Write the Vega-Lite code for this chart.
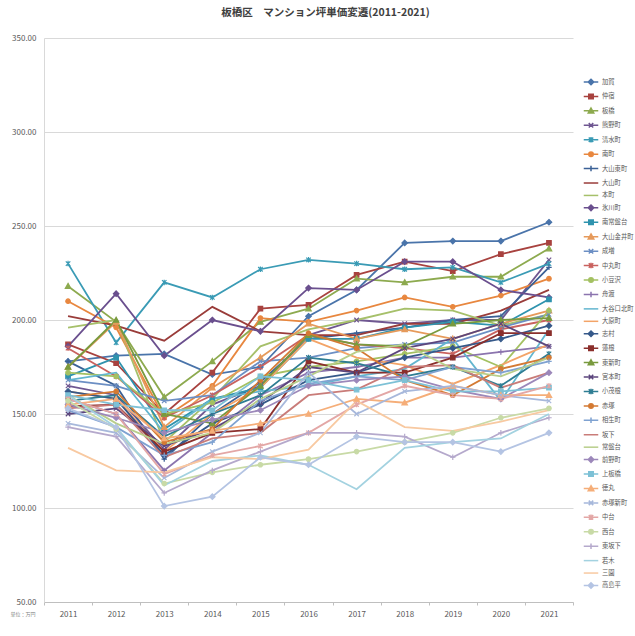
{
"$schema": "https://vega.github.io/schema/vega-lite/v6.json",
"width": 529, "height": 564,
"autosize": "none",
"padding": {"left": 44, "top": 38, "right": 62, "bottom": 34},
"background": "white",
"title": {"text": "板橋区　マンション坪単価変遷(2011-2021)", "font": "Noto Sans CJK JP", "fontSize": 10.5, "fontWeight": "bold", "color": "#404040", "offset": 16, "dx": 17},
"config": {
  "view": {"stroke": null},
  "font": "Noto Sans CJK JP",
  "legend": {"orient": "none", "legendX": 541, "legendY": 38, "padding": 0, "labelFontSize": 6.3, "labelColor": "#595959", "labelOffset": 5, "rowPadding": 2.43, "symbolStrokeWidth": 1.5, "symbolSize": 100, "labelLimit": 0, "symbolLimit": 0}
},
"data": {"values": [
{"area":"加賀","year":"2011","price":178},{"area":"加賀","year":"2012","price":181},{"area":"加賀","year":"2013","price":182},{"area":"加賀","year":"2014","price":171},{"area":"加賀","year":"2015","price":175},{"area":"加賀","year":"2016","price":202},{"area":"加賀","year":"2017","price":216},{"area":"加賀","year":"2018","price":241},{"area":"加賀","year":"2019","price":242},{"area":"加賀","year":"2020","price":242},{"area":"加賀","year":"2021","price":252},
{"area":"仲宿","year":"2011","price":187},{"area":"仲宿","year":"2012","price":177},{"area":"仲宿","year":"2013","price":150},{"area":"仲宿","year":"2014","price":172},{"area":"仲宿","year":"2015","price":206},{"area":"仲宿","year":"2016","price":208},{"area":"仲宿","year":"2017","price":224},{"area":"仲宿","year":"2018","price":231},{"area":"仲宿","year":"2019","price":226},{"area":"仲宿","year":"2020","price":235},{"area":"仲宿","year":"2021","price":241},
{"area":"板橋","year":"2011","price":218},{"area":"板橋","year":"2012","price":199},{"area":"板橋","year":"2013","price":159},{"area":"板橋","year":"2014","price":178},{"area":"板橋","year":"2015","price":199},{"area":"板橋","year":"2016","price":206},{"area":"板橋","year":"2017","price":222},{"area":"板橋","year":"2018","price":220},{"area":"板橋","year":"2019","price":223},{"area":"板橋","year":"2020","price":223},{"area":"板橋","year":"2021","price":238},
{"area":"熊野町","year":"2011","price":165},{"area":"熊野町","year":"2012","price":160},{"area":"熊野町","year":"2013","price":131},{"area":"熊野町","year":"2014","price":155},{"area":"熊野町","year":"2015","price":165},{"area":"熊野町","year":"2016","price":192},{"area":"熊野町","year":"2017","price":200},{"area":"熊野町","year":"2018","price":198},{"area":"熊野町","year":"2019","price":200},{"area":"熊野町","year":"2020","price":200},{"area":"熊野町","year":"2021","price":232},
{"area":"清水町","year":"2011","price":230},{"area":"清水町","year":"2012","price":188},{"area":"清水町","year":"2013","price":220},{"area":"清水町","year":"2014","price":212},{"area":"清水町","year":"2015","price":227},{"area":"清水町","year":"2016","price":232},{"area":"清水町","year":"2017","price":230},{"area":"清水町","year":"2018","price":227},{"area":"清水町","year":"2019","price":228},{"area":"清水町","year":"2020","price":220},{"area":"清水町","year":"2021","price":230},
{"area":"南町","year":"2011","price":210},{"area":"南町","year":"2012","price":196},{"area":"南町","year":"2013","price":148},{"area":"南町","year":"2014","price":165},{"area":"南町","year":"2015","price":201},{"area":"南町","year":"2016","price":199},{"area":"南町","year":"2017","price":205},{"area":"南町","year":"2018","price":212},{"area":"南町","year":"2019","price":207},{"area":"南町","year":"2020","price":213},{"area":"南町","year":"2021","price":222},
{"area":"大山東町","year":"2011","price":178},{"area":"大山東町","year":"2012","price":165},{"area":"大山東町","year":"2013","price":126},{"area":"大山東町","year":"2014","price":150},{"area":"大山東町","year":"2015","price":167},{"area":"大山東町","year":"2016","price":190},{"area":"大山東町","year":"2017","price":193},{"area":"大山東町","year":"2018","price":196},{"area":"大山東町","year":"2019","price":200},{"area":"大山東町","year":"2020","price":202},{"area":"大山東町","year":"2021","price":228},
{"area":"大山町","year":"2011","price":202},{"area":"大山町","year":"2012","price":197},{"area":"大山町","year":"2013","price":189},{"area":"大山町","year":"2014","price":207},{"area":"大山町","year":"2015","price":194},{"area":"大山町","year":"2016","price":192},{"area":"大山町","year":"2017","price":192},{"area":"大山町","year":"2018","price":198},{"area":"大山町","year":"2019","price":198},{"area":"大山町","year":"2020","price":205},{"area":"大山町","year":"2021","price":216},
{"area":"本町","year":"2011","price":196},{"area":"本町","year":"2012","price":200},{"area":"本町","year":"2013","price":135},{"area":"本町","year":"2014","price":158},{"area":"本町","year":"2015","price":186},{"area":"本町","year":"2016","price":195},{"area":"本町","year":"2017","price":200},{"area":"本町","year":"2018","price":206},{"area":"本町","year":"2019","price":205},{"area":"本町","year":"2020","price":197},{"area":"本町","year":"2021","price":203},
{"area":"氷川町","year":"2011","price":186},{"area":"氷川町","year":"2012","price":214},{"area":"氷川町","year":"2013","price":181},{"area":"氷川町","year":"2014","price":200},{"area":"氷川町","year":"2015","price":194},{"area":"氷川町","year":"2016","price":217},{"area":"氷川町","year":"2017","price":216},{"area":"氷川町","year":"2018","price":231},{"area":"氷川町","year":"2019","price":231},{"area":"氷川町","year":"2020","price":216},{"area":"氷川町","year":"2021","price":212},
{"area":"南常盤台","year":"2011","price":170},{"area":"南常盤台","year":"2012","price":180},{"area":"南常盤台","year":"2013","price":142},{"area":"南常盤台","year":"2014","price":158},{"area":"南常盤台","year":"2015","price":164},{"area":"南常盤台","year":"2016","price":190},{"area":"南常盤台","year":"2017","price":190},{"area":"南常盤台","year":"2018","price":196},{"area":"南常盤台","year":"2019","price":199},{"area":"南常盤台","year":"2020","price":197},{"area":"南常盤台","year":"2021","price":211},
{"area":"大山金井町","year":"2011","price":175},{"area":"大山金井町","year":"2012","price":199},{"area":"大山金井町","year":"2013","price":143},{"area":"大山金井町","year":"2014","price":164},{"area":"大山金井町","year":"2015","price":180},{"area":"大山金井町","year":"2016","price":198},{"area":"大山金井町","year":"2017","price":190},{"area":"大山金井町","year":"2018","price":195},{"area":"大山金井町","year":"2019","price":190},{"area":"大山金井町","year":"2020","price":198},{"area":"大山金井町","year":"2021","price":205},
{"area":"成増","year":"2011","price":168},{"area":"成増","year":"2012","price":165},{"area":"成増","year":"2013","price":157},{"area":"成増","year":"2014","price":160},{"area":"成増","year":"2015","price":178},{"area":"成増","year":"2016","price":180},{"area":"成増","year":"2017","price":185},{"area":"成増","year":"2018","price":187},{"area":"成増","year":"2019","price":188},{"area":"成増","year":"2020","price":196},{"area":"成増","year":"2021","price":203},
{"area":"中丸町","year":"2011","price":185},{"area":"中丸町","year":"2012","price":170},{"area":"中丸町","year":"2013","price":148},{"area":"中丸町","year":"2014","price":160},{"area":"中丸町","year":"2015","price":175},{"area":"中丸町","year":"2016","price":192},{"area":"中丸町","year":"2017","price":187},{"area":"中丸町","year":"2018","price":185},{"area":"中丸町","year":"2019","price":182},{"area":"中丸町","year":"2020","price":195},{"area":"中丸町","year":"2021","price":200},
{"area":"小豆沢","year":"2011","price":172},{"area":"小豆沢","year":"2012","price":170},{"area":"小豆沢","year":"2013","price":150},{"area":"小豆沢","year":"2014","price":156},{"area":"小豆沢","year":"2015","price":170},{"area":"小豆沢","year":"2016","price":175},{"area":"小豆沢","year":"2017","price":178},{"area":"小豆沢","year":"2018","price":182},{"area":"小豆沢","year":"2019","price":186},{"area":"小豆沢","year":"2020","price":175},{"area":"小豆沢","year":"2021","price":205},
{"area":"舟渡","year":"2011","price":158},{"area":"舟渡","year":"2012","price":150},{"area":"舟渡","year":"2013","price":120},{"area":"舟渡","year":"2014","price":140},{"area":"舟渡","year":"2015","price":160},{"area":"舟渡","year":"2016","price":172},{"area":"舟渡","year":"2017","price":175},{"area":"舟渡","year":"2018","price":180},{"area":"舟渡","year":"2019","price":180},{"area":"舟渡","year":"2020","price":183},{"area":"舟渡","year":"2021","price":186},
{"area":"大谷口北町","year":"2011","price":168},{"area":"大谷口北町","year":"2012","price":172},{"area":"大谷口北町","year":"2013","price":140},{"area":"大谷口北町","year":"2014","price":158},{"area":"大谷口北町","year":"2015","price":162},{"area":"大谷口北町","year":"2016","price":165},{"area":"大谷口北町","year":"2017","price":170},{"area":"大谷口北町","year":"2018","price":174},{"area":"大谷口北町","year":"2019","price":190},{"area":"大谷口北町","year":"2020","price":157},{"area":"大谷口北町","year":"2021","price":195},
{"area":"大原町","year":"2011","price":162},{"area":"大原町","year":"2012","price":158},{"area":"大原町","year":"2013","price":130},{"area":"大原町","year":"2014","price":150},{"area":"大原町","year":"2015","price":164},{"area":"大原町","year":"2016","price":190},{"area":"大原町","year":"2017","price":180},{"area":"大原町","year":"2018","price":176},{"area":"大原町","year":"2019","price":166},{"area":"大原町","year":"2020","price":176},{"area":"大原町","year":"2021","price":187},
{"area":"志村","year":"2011","price":162},{"area":"志村","year":"2012","price":158},{"area":"志村","year":"2013","price":128},{"area":"志村","year":"2014","price":145},{"area":"志村","year":"2015","price":155},{"area":"志村","year":"2016","price":168},{"area":"志村","year":"2017","price":172},{"area":"志村","year":"2018","price":180},{"area":"志村","year":"2019","price":185},{"area":"志村","year":"2020","price":190},{"area":"志村","year":"2021","price":197},
{"area":"蓮根","year":"2011","price":154},{"area":"蓮根","year":"2012","price":155},{"area":"蓮根","year":"2013","price":130},{"area":"蓮根","year":"2014","price":140},{"area":"蓮根","year":"2015","price":142},{"area":"蓮根","year":"2016","price":178},{"area":"蓮根","year":"2017","price":172},{"area":"蓮根","year":"2018","price":172},{"area":"蓮根","year":"2019","price":180},{"area":"蓮根","year":"2020","price":193},{"area":"蓮根","year":"2021","price":193},
{"area":"東新町","year":"2011","price":175},{"area":"東新町","year":"2012","price":200},{"area":"東新町","year":"2013","price":150},{"area":"東新町","year":"2014","price":145},{"area":"東新町","year":"2015","price":165},{"area":"東新町","year":"2016","price":192},{"area":"東新町","year":"2017","price":187},{"area":"東新町","year":"2018","price":186},{"area":"東新町","year":"2019","price":198},{"area":"東新町","year":"2020","price":200},{"area":"東新町","year":"2021","price":201},
{"area":"宮本町","year":"2011","price":150},{"area":"宮本町","year":"2012","price":153},{"area":"宮本町","year":"2013","price":133},{"area":"宮本町","year":"2014","price":142},{"area":"宮本町","year":"2015","price":156},{"area":"宮本町","year":"2016","price":175},{"area":"宮本町","year":"2017","price":172},{"area":"宮本町","year":"2018","price":185},{"area":"宮本町","year":"2019","price":190},{"area":"宮本町","year":"2020","price":198},{"area":"宮本町","year":"2021","price":186},
{"area":"小茂根","year":"2011","price":157},{"area":"小茂根","year":"2012","price":160},{"area":"小茂根","year":"2013","price":138},{"area":"小茂根","year":"2014","price":150},{"area":"小茂根","year":"2015","price":160},{"area":"小茂根","year":"2016","price":180},{"area":"小茂根","year":"2017","price":177},{"area":"小茂根","year":"2018","price":170},{"area":"小茂根","year":"2019","price":175},{"area":"小茂根","year":"2020","price":165},{"area":"小茂根","year":"2021","price":182},
{"area":"赤塚","year":"2011","price":159},{"area":"赤塚","year":"2012","price":162},{"area":"赤塚","year":"2013","price":135},{"area":"赤塚","year":"2014","price":142},{"area":"赤塚","year":"2015","price":168},{"area":"赤塚","year":"2016","price":193},{"area":"赤塚","year":"2017","price":185},{"area":"赤塚","year":"2018","price":168},{"area":"赤塚","year":"2019","price":160},{"area":"赤塚","year":"2020","price":174},{"area":"赤塚","year":"2021","price":180},
{"area":"相生町","year":"2011","price":152},{"area":"相生町","year":"2012","price":143},{"area":"相生町","year":"2013","price":128},{"area":"相生町","year":"2014","price":135},{"area":"相生町","year":"2015","price":157},{"area":"相生町","year":"2016","price":166},{"area":"相生町","year":"2017","price":170},{"area":"相生町","year":"2018","price":168},{"area":"相生町","year":"2019","price":175},{"area":"相生町","year":"2020","price":172},{"area":"相生町","year":"2021","price":178},
{"area":"坂下","year":"2011","price":153},{"area":"坂下","year":"2012","price":155},{"area":"坂下","year":"2013","price":127},{"area":"坂下","year":"2014","price":137},{"area":"坂下","year":"2015","price":140},{"area":"坂下","year":"2016","price":160},{"area":"坂下","year":"2017","price":163},{"area":"坂下","year":"2018","price":175},{"area":"坂下","year":"2019","price":176},{"area":"坂下","year":"2020","price":164},{"area":"坂下","year":"2021","price":172},
{"area":"常盤台","year":"2011","price":160},{"area":"常盤台","year":"2012","price":145},{"area":"常盤台","year":"2013","price":134},{"area":"常盤台","year":"2014","price":140},{"area":"常盤台","year":"2015","price":158},{"area":"常盤台","year":"2016","price":170},{"area":"常盤台","year":"2017","price":183},{"area":"常盤台","year":"2018","price":187},{"area":"常盤台","year":"2019","price":174},{"area":"常盤台","year":"2020","price":170},{"area":"常盤台","year":"2021","price":180},
{"area":"前野町","year":"2011","price":155},{"area":"前野町","year":"2012","price":148},{"area":"前野町","year":"2013","price":140},{"area":"前野町","year":"2014","price":147},{"area":"前野町","year":"2015","price":152},{"area":"前野町","year":"2016","price":165},{"area":"前野町","year":"2017","price":168},{"area":"前野町","year":"2018","price":170},{"area":"前野町","year":"2019","price":163},{"area":"前野町","year":"2020","price":158},{"area":"前野町","year":"2021","price":172},
{"area":"上板橋","year":"2011","price":160},{"area":"上板橋","year":"2012","price":155},{"area":"上板橋","year":"2013","price":152},{"area":"上板橋","year":"2014","price":152},{"area":"上板橋","year":"2015","price":170},{"area":"上板橋","year":"2016","price":168},{"area":"上板橋","year":"2017","price":163},{"area":"上板橋","year":"2018","price":168},{"area":"上板橋","year":"2019","price":162},{"area":"上板橋","year":"2020","price":162},{"area":"上板橋","year":"2021","price":164},
{"area":"徳丸","year":"2011","price":155},{"area":"徳丸","year":"2012","price":158},{"area":"徳丸","year":"2013","price":137},{"area":"徳丸","year":"2014","price":141},{"area":"徳丸","year":"2015","price":145},{"area":"徳丸","year":"2016","price":150},{"area":"徳丸","year":"2017","price":158},{"area":"徳丸","year":"2018","price":156},{"area":"徳丸","year":"2019","price":165},{"area":"徳丸","year":"2020","price":160},{"area":"徳丸","year":"2021","price":160},
{"area":"赤塚新町","year":"2011","price":145},{"area":"赤塚新町","year":"2012","price":140},{"area":"赤塚新町","year":"2013","price":116},{"area":"赤塚新町","year":"2014","price":130},{"area":"赤塚新町","year":"2015","price":140},{"area":"赤塚新町","year":"2016","price":172},{"area":"赤塚新町","year":"2017","price":150},{"area":"赤塚新町","year":"2018","price":162},{"area":"赤塚新町","year":"2019","price":165},{"area":"赤塚新町","year":"2020","price":160},{"area":"赤塚新町","year":"2021","price":157},
{"area":"中台","year":"2011","price":158},{"area":"中台","year":"2012","price":150},{"area":"中台","year":"2013","price":118},{"area":"中台","year":"2014","price":128},{"area":"中台","year":"2015","price":133},{"area":"中台","year":"2016","price":140},{"area":"中台","year":"2017","price":155},{"area":"中台","year":"2018","price":165},{"area":"中台","year":"2019","price":160},{"area":"中台","year":"2020","price":158},{"area":"中台","year":"2021","price":165},
{"area":"西台","year":"2011","price":157},{"area":"西台","year":"2012","price":142},{"area":"西台","year":"2013","price":113},{"area":"西台","year":"2014","price":119},{"area":"西台","year":"2015","price":123},{"area":"西台","year":"2016","price":126},{"area":"西台","year":"2017","price":130},{"area":"西台","year":"2018","price":135},{"area":"西台","year":"2019","price":140},{"area":"西台","year":"2020","price":148},{"area":"西台","year":"2021","price":153},
{"area":"東坂下","year":"2011","price":143},{"area":"東坂下","year":"2012","price":138},{"area":"東坂下","year":"2013","price":108},{"area":"東坂下","year":"2014","price":120},{"area":"東坂下","year":"2015","price":130},{"area":"東坂下","year":"2016","price":140},{"area":"東坂下","year":"2017","price":140},{"area":"東坂下","year":"2018","price":138},{"area":"東坂下","year":"2019","price":127},{"area":"東坂下","year":"2020","price":140},{"area":"東坂下","year":"2021","price":148},
{"area":"若木","year":"2011","price":160},{"area":"若木","year":"2012","price":143},{"area":"若木","year":"2013","price":112},{"area":"若木","year":"2014","price":125},{"area":"若木","year":"2015","price":128},{"area":"若木","year":"2016","price":123},{"area":"若木","year":"2017","price":110},{"area":"若木","year":"2018","price":132},{"area":"若木","year":"2019","price":135},{"area":"若木","year":"2020","price":137},{"area":"若木","year":"2021","price":150},
{"area":"三園","year":"2011","price":132},{"area":"三園","year":"2012","price":120},{"area":"三園","year":"2013","price":119},{"area":"三園","year":"2014","price":127},{"area":"三園","year":"2015","price":126},{"area":"三園","year":"2016","price":131},{"area":"三園","year":"2017","price":157},{"area":"三園","year":"2018","price":143},{"area":"三園","year":"2019","price":141},{"area":"三園","year":"2020","price":146},{"area":"三園","year":"2021","price":152},
{"area":"高島平","year":"2011","price":153},{"area":"高島平","year":"2012","price":143},{"area":"高島平","year":"2013","price":101},{"area":"高島平","year":"2014","price":106},{"area":"高島平","year":"2015","price":127},{"area":"高島平","year":"2016","price":123},{"area":"高島平","year":"2017","price":138},{"area":"高島平","year":"2018","price":135},{"area":"高島平","year":"2019","price":135},{"area":"高島平","year":"2020","price":130},{"area":"高島平","year":"2021","price":140}
]},
"encoding": {
  "x": {"field": "year", "type": "ordinal", "scale": {"type": "band", "paddingInner": 0, "paddingOuter": 0},
        "axis": {"title": null, "labelAngle": 0, "tickBand": "extent", "domainColor": "#bfbfbf", "tickColor": "#bfbfbf", "tickSize": 3, "labelColor": "#595959", "labelFontSize": 8, "labelPadding": 5, "grid": false}},
  "y": {"field": "price", "type": "quantitative", "scale": {"domain": [50, 350], "nice": false, "zero": false},
        "axis": {"values": [50, 100, 150, 200, 250, 300, 350], "format": ".2f", "title": "単位：万円", "titleAngle": 0, "titleFontSize": 5, "titleFontWeight": "normal", "titleColor": "#7f7f7f", "titleX": -34, "titleY": 575, "titleAlign": "left", "titleBaseline": "middle", "grid": true, "gridColor": "#d9d9d9", "domainColor": "#d9d9d9", "ticks": false, "labelColor": "#595959", "labelFontSize": 8, "labelPadding": 8}}
},
"layer": [
  {"mark": {"type": "line", "strokeWidth": 1.8},
   "encoding": {"color": {"field": "area", "type": "nominal", "legend": null,
     "scale": {"domain": ["加賀","仲宿","板橋","熊野町","清水町","南町","大山東町","大山町","本町","氷川町","南常盤台","大山金井町","成増","中丸町","小豆沢","舟渡","大谷口北町","大原町","志村","蓮根","東新町","宮本町","小茂根","赤塚","相生町","坂下","常盤台","前野町","上板橋","徳丸","赤塚新町","中台","西台","東坂下","若木","三園","高島平"],
       "range": ["#4A74AA","#A8423F","#8DAA4F","#6F5791","#3A9BB5","#E8873F","#3B6196","#9A3C3A","#A6C06A","#6A4F8E","#2F93AE","#E69A5B","#6C8FC4","#C9625F","#A4C162","#8B74AE","#63B6CF","#F3A468","#36598A","#8B2F2C","#799A3E","#5C467D","#2E7D93","#D47A33","#7FA2D1","#C97C79","#B8CE8A","#9C88BA","#7DC1D6","#F5AE79","#A7B8DB","#E3A7A6","#C8DAA6","#B5A9CC","#A3D2E0","#F8C9A1","#B4C4E3"]}}}},
  {"mark": {"type": "point", "filled": true, "size": 25, "strokeWidth": 1.2, "opacity": 1},
   "encoding": {
     "fill": {"field": "area", "type": "nominal", "legend": null,
       "scale": {"domain": ["加賀","仲宿","板橋","熊野町","清水町","南町","大山東町","大山町","本町","氷川町","南常盤台","大山金井町","成増","中丸町","小豆沢","舟渡","大谷口北町","大原町","志村","蓮根","東新町","宮本町","小茂根","赤塚","相生町","坂下","常盤台","前野町","上板橋","徳丸","赤塚新町","中台","西台","東坂下","若木","三園","高島平"],
         "range": ["#4A74AA","#A8423F","#8DAA4F","#6F5791","#3A9BB5","#E8873F","#3B6196","#9A3C3A","#A6C06A","#6A4F8E","#2F93AE","#E69A5B","#6C8FC4","#C9625F","#A4C162","#8B74AE","#63B6CF","#F3A468","#36598A","#8B2F2C","#799A3E","#5C467D","#2E7D93","#D47A33","#7FA2D1","#C97C79","#B8CE8A","#9C88BA","#7DC1D6","#F5AE79","#A7B8DB","#E3A7A6","#C8DAA6","#B5A9CC","#A3D2E0","#F8C9A1","#B4C4E3"]}},
     "stroke": {"field": "area", "type": "nominal", "legend": null,
       "scale": {"domain": ["加賀","仲宿","板橋","熊野町","清水町","南町","大山東町","大山町","本町","氷川町","南常盤台","大山金井町","成増","中丸町","小豆沢","舟渡","大谷口北町","大原町","志村","蓮根","東新町","宮本町","小茂根","赤塚","相生町","坂下","常盤台","前野町","上板橋","徳丸","赤塚新町","中台","西台","東坂下","若木","三園","高島平"],
         "range": ["#4A74AA","#A8423F","#8DAA4F","#6F5791","#3A9BB5","#E8873F","#3B6196","#9A3C3A","#A6C06A","#6A4F8E","#2F93AE","#E69A5B","#6C8FC4","#C9625F","#A4C162","#8B74AE","#63B6CF","#F3A468","#36598A","#8B2F2C","#799A3E","#5C467D","#2E7D93","#D47A33","#7FA2D1","#C97C79","#B8CE8A","#9C88BA","#7DC1D6","#F5AE79","#A7B8DB","#E3A7A6","#C8DAA6","#B5A9CC","#A3D2E0","#F8C9A1","#B4C4E3"]}},
     "shape": {"field": "area", "type": "nominal", "legend": null,
       "scale": {"domain": ["加賀","仲宿","板橋","熊野町","清水町","南町","大山東町","大山町","本町","氷川町","南常盤台","大山金井町","成増","中丸町","小豆沢","舟渡","大谷口北町","大原町","志村","蓮根","東新町","宮本町","小茂根","赤塚","相生町","坂下","常盤台","前野町","上板橋","徳丸","赤塚新町","中台","西台","東坂下","若木","三園","高島平"],
         "range": [
"M0,-1.1L1.1,0L0,1.1L-1.1,0Z","M-0.9,-0.9L0.9,-0.9L0.9,0.9L-0.9,0.9Z","M0,-1.1L1.1,0.9L-1.1,0.9Z","M-0.9,-0.9L0.9,0.9M-0.9,0.9L0.9,-0.9","M-0.9,-0.9L0.9,0.9M-0.9,0.9L0.9,-0.9M0,-1.1L0,1.1","M0.9,0A0.9,0.9 0 1,1 -0.9,0A0.9,0.9 0 1,1 0.9,0Z","M-1.1,0L1.1,0M0,-1.1L0,1.1","M0,0L0,0","M0,0L0,0",
"M0,-1.1L1.1,0L0,1.1L-1.1,0Z","M-0.9,-0.9L0.9,-0.9L0.9,0.9L-0.9,0.9Z","M0,-1.1L1.1,0.9L-1.1,0.9Z","M-0.9,-0.9L0.9,0.9M-0.9,0.9L0.9,-0.9","M-0.9,-0.9L0.9,0.9M-0.9,0.9L0.9,-0.9M0,-1.1L0,1.1","M0.9,0A0.9,0.9 0 1,1 -0.9,0A0.9,0.9 0 1,1 0.9,0Z","M-1.1,0L1.1,0M0,-1.1L0,1.1","M0,0L0,0","M0,0L0,0",
"M0,-1.1L1.1,0L0,1.1L-1.1,0Z","M-0.9,-0.9L0.9,-0.9L0.9,0.9L-0.9,0.9Z","M0,-1.1L1.1,0.9L-1.1,0.9Z","M-0.9,-0.9L0.9,0.9M-0.9,0.9L0.9,-0.9","M-0.9,-0.9L0.9,0.9M-0.9,0.9L0.9,-0.9M0,-1.1L0,1.1","M0.9,0A0.9,0.9 0 1,1 -0.9,0A0.9,0.9 0 1,1 0.9,0Z","M-1.1,0L1.1,0M0,-1.1L0,1.1","M0,0L0,0","M0,0L0,0",
"M0,-1.1L1.1,0L0,1.1L-1.1,0Z","M-0.9,-0.9L0.9,-0.9L0.9,0.9L-0.9,0.9Z","M0,-1.1L1.1,0.9L-1.1,0.9Z","M-0.9,-0.9L0.9,0.9M-0.9,0.9L0.9,-0.9","M-0.9,-0.9L0.9,0.9M-0.9,0.9L0.9,-0.9M0,-1.1L0,1.1","M0.9,0A0.9,0.9 0 1,1 -0.9,0A0.9,0.9 0 1,1 0.9,0Z","M-1.1,0L1.1,0M0,-1.1L0,1.1","M0,0L0,0","M0,0L0,0",
"M0,-1.1L1.1,0L0,1.1L-1.1,0Z"]}}}},
  {"transform": [{"filter": "false"}],
   "mark": {"type": "point", "filled": true, "size": 100, "strokeWidth": 1.5, "opacity": 1},
   "encoding": {
     "fill": {"field": "area", "type": "nominal", "title": null,
       "scale": {"domain": ["加賀","仲宿","板橋","熊野町","清水町","南町","大山東町","大山町","本町","氷川町","南常盤台","大山金井町","成増","中丸町","小豆沢","舟渡","大谷口北町","大原町","志村","蓮根","東新町","宮本町","小茂根","赤塚","相生町","坂下","常盤台","前野町","上板橋","徳丸","赤塚新町","中台","西台","東坂下","若木","三園","高島平"],
         "range": ["#4A74AA","#A8423F","#8DAA4F","#6F5791","#3A9BB5","#E8873F","#3B6196","#9A3C3A","#A6C06A","#6A4F8E","#2F93AE","#E69A5B","#6C8FC4","#C9625F","#A4C162","#8B74AE","#63B6CF","#F3A468","#36598A","#8B2F2C","#799A3E","#5C467D","#2E7D93","#D47A33","#7FA2D1","#C97C79","#B8CE8A","#9C88BA","#7DC1D6","#F5AE79","#A7B8DB","#E3A7A6","#C8DAA6","#B5A9CC","#A3D2E0","#F8C9A1","#B4C4E3"]}},
     "stroke": {"field": "area", "type": "nominal", "title": null,
       "scale": {"domain": ["加賀","仲宿","板橋","熊野町","清水町","南町","大山東町","大山町","本町","氷川町","南常盤台","大山金井町","成増","中丸町","小豆沢","舟渡","大谷口北町","大原町","志村","蓮根","東新町","宮本町","小茂根","赤塚","相生町","坂下","常盤台","前野町","上板橋","徳丸","赤塚新町","中台","西台","東坂下","若木","三園","高島平"],
         "range": ["#4A74AA","#A8423F","#8DAA4F","#6F5791","#3A9BB5","#E8873F","#3B6196","#9A3C3A","#A6C06A","#6A4F8E","#2F93AE","#E69A5B","#6C8FC4","#C9625F","#A4C162","#8B74AE","#63B6CF","#F3A468","#36598A","#8B2F2C","#799A3E","#5C467D","#2E7D93","#D47A33","#7FA2D1","#C97C79","#B8CE8A","#9C88BA","#7DC1D6","#F5AE79","#A7B8DB","#E3A7A6","#C8DAA6","#B5A9CC","#A3D2E0","#F8C9A1","#B4C4E3"]}},
     "shape": {"field": "area", "type": "nominal", "title": null,
       "scale": {"domain": ["加賀","仲宿","板橋","熊野町","清水町","南町","大山東町","大山町","本町","氷川町","南常盤台","大山金井町","成増","中丸町","小豆沢","舟渡","大谷口北町","大原町","志村","蓮根","東新町","宮本町","小茂根","赤塚","相生町","坂下","常盤台","前野町","上板橋","徳丸","赤塚新町","中台","西台","東坂下","若木","三園","高島平"],
         "range": [
"M-1.45,0L1.45,0M0,-0.55L0.55,0L0,0.55L-0.55,0Z","M-1.45,0L1.45,0M-0.45,-0.45L0.45,-0.45L0.45,0.45L-0.45,0.45Z","M-1.45,0L1.45,0M0,-0.55L0.55,0.45L-0.55,0.45Z","M-1.45,0L1.45,0M-0.45,-0.45L0.45,0.45M-0.45,0.45L0.45,-0.45","M-1.45,0L1.45,0M-0.45,-0.45L0.45,0.45M-0.45,0.45L0.45,-0.45M0,-0.55L0,0.55","M-1.45,0L1.45,0M0.45,0A0.45,0.45 0 1,1 -0.45,0A0.45,0.45 0 1,1 0.45,0Z","M-1.45,0L1.45,0M0,-0.55L0,0.55","M-1.45,0L1.45,0","M-1.45,0L1.45,0",
"M-1.45,0L1.45,0M0,-0.55L0.55,0L0,0.55L-0.55,0Z","M-1.45,0L1.45,0M-0.45,-0.45L0.45,-0.45L0.45,0.45L-0.45,0.45Z","M-1.45,0L1.45,0M0,-0.55L0.55,0.45L-0.55,0.45Z","M-1.45,0L1.45,0M-0.45,-0.45L0.45,0.45M-0.45,0.45L0.45,-0.45","M-1.45,0L1.45,0M-0.45,-0.45L0.45,0.45M-0.45,0.45L0.45,-0.45M0,-0.55L0,0.55","M-1.45,0L1.45,0M0.45,0A0.45,0.45 0 1,1 -0.45,0A0.45,0.45 0 1,1 0.45,0Z","M-1.45,0L1.45,0M0,-0.55L0,0.55","M-1.45,0L1.45,0","M-1.45,0L1.45,0",
"M-1.45,0L1.45,0M0,-0.55L0.55,0L0,0.55L-0.55,0Z","M-1.45,0L1.45,0M-0.45,-0.45L0.45,-0.45L0.45,0.45L-0.45,0.45Z","M-1.45,0L1.45,0M0,-0.55L0.55,0.45L-0.55,0.45Z","M-1.45,0L1.45,0M-0.45,-0.45L0.45,0.45M-0.45,0.45L0.45,-0.45","M-1.45,0L1.45,0M-0.45,-0.45L0.45,0.45M-0.45,0.45L0.45,-0.45M0,-0.55L0,0.55","M-1.45,0L1.45,0M0.45,0A0.45,0.45 0 1,1 -0.45,0A0.45,0.45 0 1,1 0.45,0Z","M-1.45,0L1.45,0M0,-0.55L0,0.55","M-1.45,0L1.45,0","M-1.45,0L1.45,0",
"M-1.45,0L1.45,0M0,-0.55L0.55,0L0,0.55L-0.55,0Z","M-1.45,0L1.45,0M-0.45,-0.45L0.45,-0.45L0.45,0.45L-0.45,0.45Z","M-1.45,0L1.45,0M0,-0.55L0.55,0.45L-0.55,0.45Z","M-1.45,0L1.45,0M-0.45,-0.45L0.45,0.45M-0.45,0.45L0.45,-0.45","M-1.45,0L1.45,0M-0.45,-0.45L0.45,0.45M-0.45,0.45L0.45,-0.45M0,-0.55L0,0.55","M-1.45,0L1.45,0M0.45,0A0.45,0.45 0 1,1 -0.45,0A0.45,0.45 0 1,1 0.45,0Z","M-1.45,0L1.45,0M0,-0.55L0,0.55","M-1.45,0L1.45,0","M-1.45,0L1.45,0",
"M-1.45,0L1.45,0M0,-0.55L0.55,0L0,0.55L-0.55,0Z"]}}}}
],
"resolve": {"scale": {"color": "independent", "fill": "independent", "stroke": "independent", "shape": "independent"}}
}
